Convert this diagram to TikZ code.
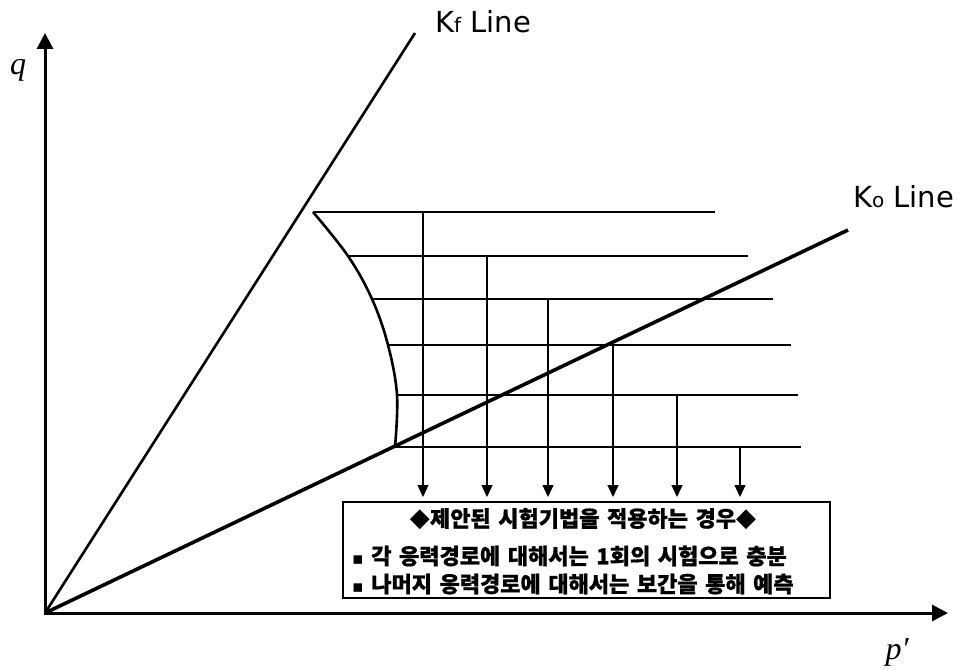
\documentclass[tikz,border=0pt]{standalone}
\usepackage{fontspec}
\setmainfont{Liberation Serif}
\newfontfamily\kr{Noto Sans CJK KR}[WordSpace=1.5,BoldFeatures={FakeBold=0.8}]
\newfontfamily\sym{DejaVu Sans}
\newfontfamily\lab{DejaVu Sans}
\usetikzlibrary{arrows.meta}
\begin{document}
\begin{tikzpicture}[x=1pt,y=-1pt]
\useasboundingbox (0,0) rectangle (976,669);
\tikzset{
 axes/.style={line width=3pt,line join=miter,{Triangle[length=16pt,width=16pt]}-{Triangle[length=16pt,width=16pt]}},
 kfline/.style={line width=2.6pt},
 koline/.style={line width=3.6pt},
 spath/.style={line width=2.4pt},
 yieldcurve/.style={line width=2.6pt},
 drop/.style={line width=1.3pt,-{Triangle[length=12pt,width=11pt]}},
 notebox/.style={draw,line width=1.4pt,inner sep=0pt},
 krtxt/.style={inner sep=0pt,font=\kr\bfseries\fontsize{22}{22}\selectfont},
 linelab/.style={anchor=base west,inner sep=0pt,font=\lab\fontsize{29}{29}\selectfont},
 axlab/.style={inner sep=0pt,font=\fontsize{32}{32}\selectfont\itshape}
}
% axes and reference lines
\coordinate (O) at (45,613);
\coordinate (X) at (948,613);
\coordinate (Y) at (45,33);
\coordinate (KF) at (415,33);
\coordinate (KO) at (848,230);
\draw[axes] (X) -- (O) -- (Y);
\draw[kfline] (O) -- (KF);
\draw[koline] (O) -- (KO);
% stress paths
\coordinate (s1) at (313,212); \coordinate (e1) at (715,212);
\coordinate (s2) at (348,256); \coordinate (e2) at (748,256);
\coordinate (s3) at (372,299); \coordinate (e3) at (773,299);
\coordinate (s4) at (388,345); \coordinate (e4) at (791,345);
\coordinate (s5) at (397,395); \coordinate (e5) at (798,395);
\coordinate (s6) at (395,447); \coordinate (e6) at (801,447);
\foreach \i in {1,...,6} { \draw[spath] (s\i) -- (e\i); }
\draw[yieldcurve] plot[smooth,tension=0.6] coordinates {(s1) (s2) (s3) (s4) (s5) (s6)};
% arrows
\coordinate (t1) at (423,497);
\coordinate (t2) at (487,497);
\coordinate (t3) at (548,497);
\coordinate (t4) at (613,497);
\coordinate (t5) at (677,497);
\coordinate (t6) at (740,497);
\foreach \i in {1,...,6} { \draw[drop] (t\i |- s\i) -- (t\i); }
% note box
\node[notebox,minimum width=487pt,minimum height=96pt] (box) at (586.5,550) {};
\node[krtxt] (title) at (583,519) {{\sym\fontsize{26}{26}\selectfont ◆}제안된 시험기법을 적용하는 경우{\sym\fontsize{26}{26}\selectfont ◆}};
\node[krtxt,anchor=west] (l2) at (352,556) {{\sym\fontsize{17}{17}\selectfont ▪} 각 응력경로에 대해서는 1회의 시험으로 충분};
\node[krtxt,anchor=west] (l3) at (352,584) {{\sym\fontsize{17}{17}\selectfont ▪} 나머지 응력경로에 대해서는 보간을 통해 예측};
% labels
\node[linelab] (kf) at (435,33) {K{\fontsize{20}{20}\selectfont f} Line};
\node[linelab] (ko) at (853,207) {K{\fontsize{20}{20}\selectfont o} Line};
\node[axlab] (q) at (18,70) {q};
\node[axlab] (p) at (897,652) {p′};
\end{tikzpicture}
\end{document}
